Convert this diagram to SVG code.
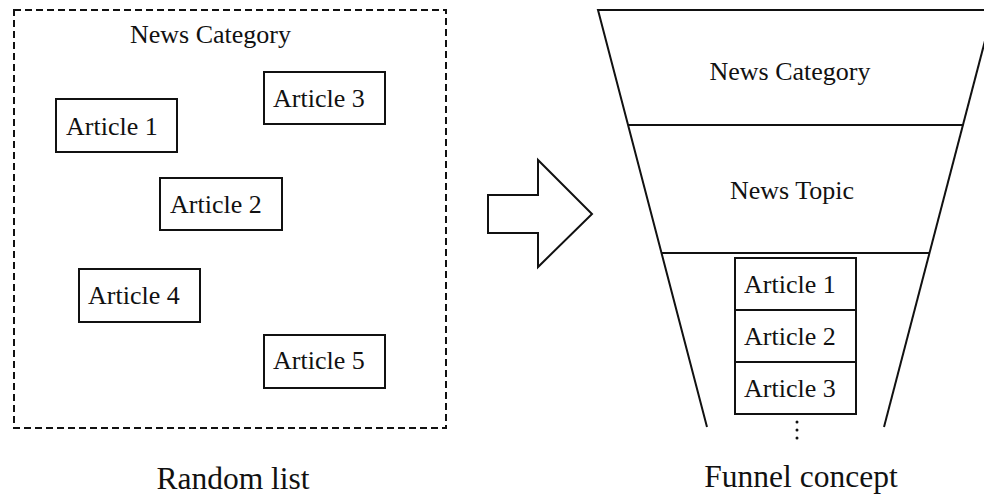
<svg xmlns="http://www.w3.org/2000/svg" width="984" height="496" viewBox="0 0 984 496">
<style>
text{font-family:"Liberation Serif","Times New Roman",serif;fill:#111}
.t{font-size:26px}
.big{font-size:31.5px;text-anchor:middle}
.box{fill:#fff;stroke:#111;stroke-width:2}
.ln{fill:none;stroke:#111;stroke-width:2}
</style>
<rect width="984" height="496" fill="#fff"/>
<g id="random-list">
<rect x="14" y="10" width="432" height="418" fill="none" stroke="#111" stroke-width="2" stroke-dasharray="7 4"/>
<text class="t" x="130" y="43">News Category</text>
</g>
<g id="r-article1"><rect class="box" x="56" y="99" width="121" height="53"/><text class="t" x="66" y="135">Article 1</text></g>
<g id="r-article3"><rect class="box" x="264" y="72" width="121" height="52"/><text class="t" x="273" y="107">Article 3</text></g>
<g id="r-article2"><rect class="box" x="160" y="178" width="122" height="52"/><text class="t" x="170" y="213">Article 2</text></g>
<g id="r-article4"><rect class="box" x="79" y="269" width="121" height="53"/><text class="t" x="88" y="304">Article 4</text></g>
<g id="r-article5"><rect class="box" x="264" y="335" width="121" height="53"/><text class="t" x="273" y="369">Article 5</text></g>
<g id="connectors">
<path class="ln" d="M488,195 H538 V160 L592,214 L538,267 V233 H488 Z"/>
</g>
<g id="funnel">
<path class="ln" d="M707,427 L598,10 H995"/>
<path class="ln" d="M993,10 L884,427"/>
<line class="ln" x1="628" y1="125" x2="963" y2="125"/>
<line class="ln" x1="662" y1="253" x2="930" y2="253"/>
<text class="t" x="790" y="80" text-anchor="middle">News Category</text>
<text class="t" x="792" y="199" text-anchor="middle">News Topic</text>
</g>
<g id="f-article1"><rect class="box" x="735" y="258" width="121" height="52"/><text class="t" x="744" y="293">Article 1</text></g>
<g id="f-article2"><rect class="box" x="735" y="310" width="121" height="52"/><text class="t" x="744" y="345">Article 2</text></g>
<g id="f-article3"><rect class="box" x="735" y="362" width="121" height="52"/><text class="t" x="744" y="397">Article 3</text></g>
<g id="dots" fill="#111"><circle cx="797" cy="422" r="1.5"/><circle cx="797" cy="430" r="1.5"/><circle cx="797" cy="438" r="1.5"/></g>
<text class="big" x="233" y="489">Random list</text>
<text class="big" x="801" y="487">Funnel concept</text>
</svg>
